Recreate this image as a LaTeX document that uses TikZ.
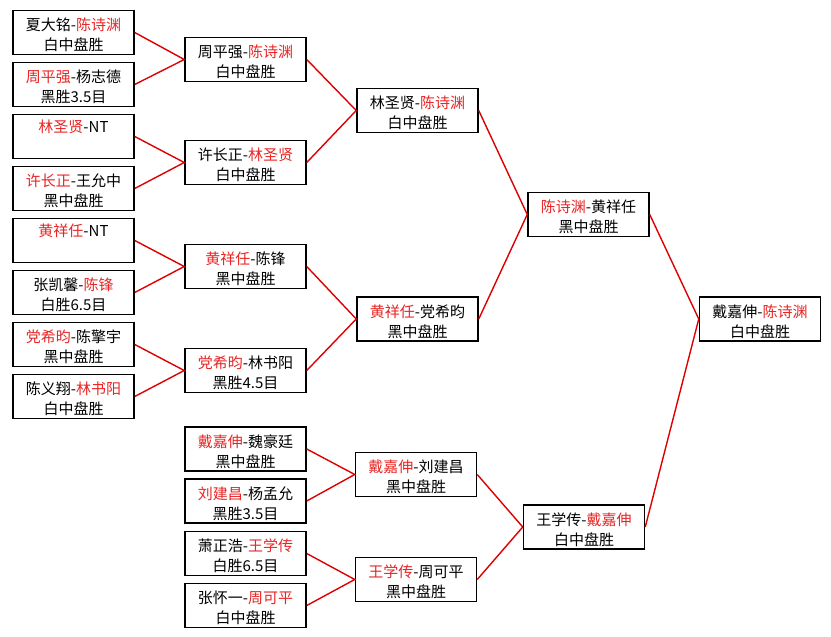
\documentclass[tikz,border=0pt]{standalone}
\usepackage{fontspec}
\setmainfont{Noto Sans CJK SC}
\usepackage{tikz}
\definecolor{winred}{RGB}{232,36,36}
\definecolor{linkred}{RGB}{222,0,0}
\newcommand{\rn}[1]{\textcolor{winred}{#1}}
\newcommand{\res}[2]{\rule{0pt}{18pt}#1\\#2}
\tikzset{
	game/.style = {draw, line width=1.5pt, minimum width=121pt, minimum height=44pt, inner sep=0pt, align=center, font=\fontsize{15}{20}\selectfont},
	link/.style = {linkred, line width=1.4pt}
}

\begin{document}
\begin{tikzpicture}[x=1pt,y=-1pt]
		\useasboundingbox (0,0) rectangle (831,637);
		\node[game] (a1) at (73.5,32.5) {\res{夏大铭-\rn{陈诗渊}}{白中盘胜}};
		\node[game] (a2) at (73.5,84.5) {\res{\rn{周平强}-杨志德}{黑胜3.5目}};
		\node[game] (a3) at (73.5,136.5) {\res{\rn{林圣贤}-NT}{\strut}};
		\node[game] (a4) at (73.5,188.5) {\res{\rn{许长正}-王允中}{黑中盘胜}};
		\node[game] (a5) at (73.5,240.5) {\res{\rn{黄祥任}-NT}{\strut}};
		\node[game] (a6) at (73.5,292.5) {\res{张凯馨-\rn{陈锋}}{白胜6.5目}};
		\node[game] (a7) at (73.5,344.5) {\res{\rn{党希昀}-陈擎宇}{黑中盘胜}};
		\node[game] (a8) at (73.5,396.5) {\res{陈义翔-\rn{林书阳}}{白中盘胜}};
		\node[game] (b1) at (245.5,59.5) {\res{周平强-\rn{陈诗渊}}{白中盘胜}};
		\node[game] (b2) at (245.5,162.5) {\res{许长正-\rn{林圣贤}}{白中盘胜}};
		\node[game] (b3) at (245.5,266.5) {\res{\rn{黄祥任}-陈锋}{黑中盘胜}};
		\node[game] (b4) at (245.5,370.5) {\res{\rn{党希昀}-林书阳}{黑胜4.5目}};
		\node[game] (e1) at (245.5,449) {\res{\rn{戴嘉伸}-魏豪廷}{黑中盘胜}};
		\node[game] (e2) at (245.5,501) {\res{\rn{刘建昌}-杨孟允}{黑胜3.5目}};
		\node[game] (e3) at (245.5,553.5) {\res{萧正浩-\rn{王学传}}{白胜6.5目}};
		\node[game] (e4) at (245.5,605.5) {\res{张怀一-\rn{周可平}}{白中盘胜}};
		\node[game] (c1) at (417.5,110.5) {\res{林圣贤-\rn{陈诗渊}}{白中盘胜}};
		\node[game] (c2) at (417.5,319) {\res{\rn{黄祥任}-党希昀}{黑中盘胜}};
		\node[game] (c3) at (416,474.5) {\res{\rn{戴嘉伸}-刘建昌}{黑中盘胜}};
		\node[game] (c4) at (416,579.5) {\res{\rn{王学传}-周可平}{黑中盘胜}};
		\node[game] (d1) at (588.5,214.5) {\res{\rn{陈诗渊}-黄祥任}{黑中盘胜}};
		\node[game] (d2) at (584,527) {\res{王学传-\rn{戴嘉伸}}{白中盘胜}};
		\node[game] (f) at (760,319) {\res{戴嘉伸-\rn{陈诗渊}}{白中盘胜}};
		\draw[link] (a1.east) -- (b1.west) -- (a2.east);
		\draw[link] (a3.east) -- (b2.west) -- (a4.east);
		\draw[link] (a5.east) -- (b3.west) -- (a6.east);
		\draw[link] (a7.east) -- (b4.west) -- (a8.east);
		\draw[link] (b1.east) -- (c1.west) -- (b2.east);
		\draw[link] (b3.east) -- (c2.west) -- (b4.east);
		\draw[link] (e1.east) -- (c3.west) -- (e2.east);
		\draw[link] (e3.east) -- (c4.west) -- (e4.east);
		\draw[link] (c1.east) -- (d1.west) -- (c2.east);
		\draw[link] (c3.east) -- (d2.west) -- (c4.east);
		\draw[link] (d1.east) -- (f.west) -- (d2.east);
	\end{tikzpicture}
\end{document}
